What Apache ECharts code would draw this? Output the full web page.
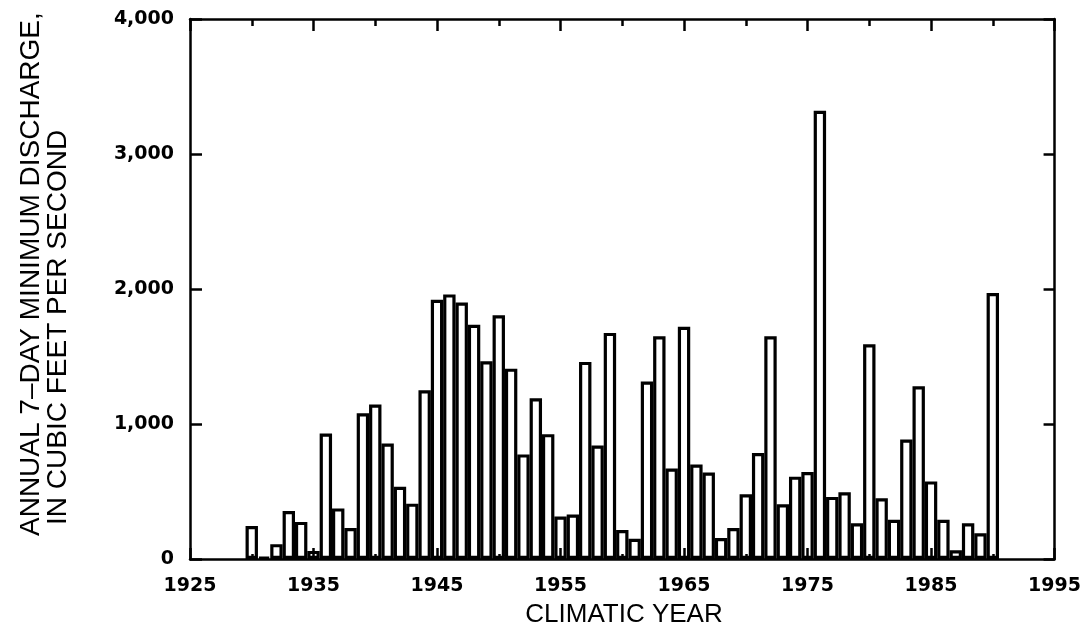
<!DOCTYPE html>
<html>
<head>
<meta charset="utf-8">
<style>
  html, body { margin: 0; padding: 0; background: #fff; }
  #chart { width: 1084px; height: 626px; }
</style>
<script src="https://cdn.jsdelivr.net/npm/echarts@6/dist/echarts.min.js"></script>
</head>
<body>
<div id="chart"></div>
<script>
// Climatic years with a recorded annual 7-day minimum
const years = [
  1930, 1931, 1932, 1933, 1934, 1935, 1936, 1937, 1938, 1939,
  1940, 1941, 1942, 1943, 1944, 1945, 1946, 1947, 1948, 1949,
  1950, 1951, 1952, 1953, 1954, 1955, 1956, 1957, 1958, 1959,
  1960, 1961, 1962, 1963, 1964, 1965, 1966, 1967, 1968, 1969,
  1970, 1971, 1972, 1973, 1974, 1975, 1976, 1977, 1978, 1979,
  1980, 1981, 1982, 1983, 1984, 1985, 1986, 1987, 1988, 1989,
  1990
];

// Annual 7-day minimum discharge, cubic feet per second
const discharge = [
  245, 15, 110, 355, 275, 60, 930, 375, 230, 1080,
  1145, 855, 535, 410, 1250, 1920, 1960, 1900, 1735, 1465,
  1805, 1410, 775, 1190, 925, 315, 330, 1460, 840, 1675,
  215, 150, 1315, 1650, 670, 1720, 700, 640, 155, 230,
  480, 785, 1650, 405, 610, 645, 3320, 460, 495, 265,
  1590, 450, 290, 885, 1280, 575, 290, 65, 265, 190,
  1970
];

// Axis ranges and tick spacing
const yearRange = [1925, 1995];
const yearStep = 10;
const flowRange = [0, 4000];
const flowStep = 1000;

const xTitle = 'CLIMATIC YEAR';
const yTitleLines = ['ANNUAL 7\u2013DAY MINIMUM DISCHARGE,', 'IN CUBIC FEET PER SECOND'];

const chart = echarts.init(document.getElementById('chart'), null, { renderer: 'canvas' });

const ink = '#000';
const labelFont = { color: ink, fontFamily: 'DejaVu Sans', fontWeight: 'bold' };

function xAxisDef(pos, showLabels, majorLen, minorLen) {
  return {
    type: 'value',
    position: pos,
    min: yearRange[0],
    max: yearRange[1],
    interval: yearStep,
    z: 10,
    axisLine: { show: true, onZero: false, lineStyle: { color: ink, width: 2.5 } },
    axisTick: { show: true, inside: true, length: majorLen, lineStyle: { color: ink, width: 2.5 } },
    minorTick: { show: true, splitNumber: 2, length: minorLen, lineStyle: { color: ink, width: 2.5 } },
    splitLine: { show: false },
    minorSplitLine: { show: false },
    axisLabel: Object.assign({
      show: showLabels,
      fontSize: 19,
      margin: 18,
      formatter: v => String(v)
    }, labelFont)
  };
}

function yAxisDef(pos, showLabels, tickLen) {
  return {
    type: 'value',
    position: pos,
    min: flowRange[0],
    max: flowRange[1],
    interval: flowStep,
    z: 10,
    axisLine: { show: true, onZero: false, lineStyle: { color: ink, width: 2.5 } },
    axisTick: { show: true, inside: true, length: tickLen, lineStyle: { color: ink, width: 2.5 } },
    splitLine: { show: false },
    axisLabel: Object.assign({
      show: showLabels,
      fontSize: 19,
      margin: 16,
      formatter: v => v.toLocaleString('en-US')
    }, labelFont)
  };
}

const option = {
  backgroundColor: '#fff',
  animation: false,
  grid: { left: 190, right: 26, top: 19, bottom: 67, containLabel: false },
  xAxis: [
    xAxisDef('bottom', true, 11, 5),
    xAxisDef('top', false, 12, 7)
  ],
  yAxis: [
    yAxisDef('left', true, 12),
    yAxisDef('right', false, 11)
  ],
  series: [{
    type: 'bar',
    xAxisIndex: 0,
    yAxisIndex: 0,
    // one year wide; the thick outline sits inside each bar
    barWidth: 12.4,
    itemStyle: { color: '#fff', borderColor: ink, borderWidth: 3.2 },
    data: years.map((y, i) => [y, discharge[i]])
  }],
  graphic: [
    {
      type: 'text',
      z: 20,
      x: 624,
      y: 615,
      style: {
        text: xTitle,
        fontFamily: 'Liberation Sans',
        fontSize: 26,
        fill: ink,
        align: 'center',
        verticalAlign: 'middle'
      }
    },
    {
      type: 'text',
      z: 20,
      rotation: Math.PI / 2,
      x: 31,
      y: 536,
      style: {
        text: yTitleLines[0],
        fontFamily: 'Liberation Sans',
        fontSize: 28,
        fill: ink,
        align: 'left',
        verticalAlign: 'middle'
      }
    },
    {
      type: 'text',
      z: 20,
      rotation: Math.PI / 2,
      x: 58,
      y: 525,
      style: {
        text: yTitleLines[1],
        fontFamily: 'Liberation Sans',
        fontSize: 28,
        fill: ink,
        align: 'left',
        verticalAlign: 'middle'
      }
    }
  ]
};

chart.setOption(option);
</script>
</body>
</html>
